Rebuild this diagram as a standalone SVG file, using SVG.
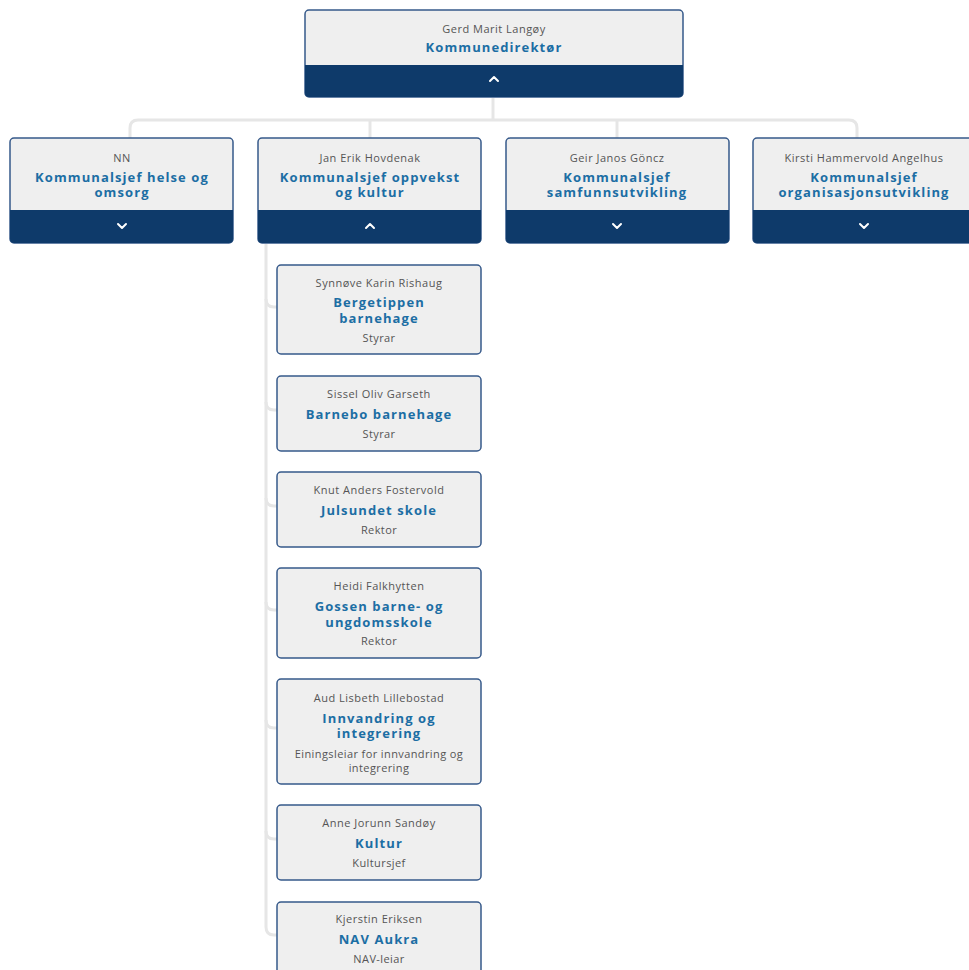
<svg xmlns="http://www.w3.org/2000/svg" width="969" height="970" viewBox="0 0 969 970">
<style>
.box{fill:#efefef;stroke:#36598a;stroke-width:1.5}
.band{fill:#0e3a6a}
.name{font-family:"Open Sans","Liberation Sans",sans-serif;font-size:11px;fill:#555;text-anchor:middle;letter-spacing:0.5px}
.title{font-family:"Open Sans","Liberation Sans",sans-serif;font-size:13px;font-weight:bold;fill:#1c6ea4;text-anchor:middle;letter-spacing:1.1px}
.role{font-family:"Open Sans","Liberation Sans",sans-serif;font-size:11px;fill:#555;text-anchor:middle;letter-spacing:0.4px}
.chev{fill:none;stroke:#fff;stroke-width:2;stroke-linecap:round;stroke-linejoin:round}
.conn{fill:none;stroke:#e6e6e6;stroke-width:3}
</style>
<rect width="969" height="970" fill="#fff"/>
<g id="connectors">
<path class="conn" d="M493 98 V120"/>
<path class="conn" d="M130 138 V128 Q130 120 138 120 H849 Q857 120 857 128 V138"/>
<path class="conn" d="M370 120 V138"/>
<path class="conn" d="M617 120 V138"/>
<path class="conn" d="M266 244 V927 Q266 935 274 935 H278"/>
<path class="conn" d="M266 299 Q266 307 274 307 H278"/>
<path class="conn" d="M266 402 Q266 410 274 410 H278"/>
<path class="conn" d="M266 498 Q266 506 274 506 H278"/>
<path class="conn" d="M266 602 Q266 610 274 610 H278"/>
<path class="conn" d="M266 720 Q266 728 274 728 H278"/>
<path class="conn" d="M266 831 Q266 839 274 839 H278"/>
</g>
<g id="n-top">
<rect class="box" x="305" y="10" width="378" height="87" rx="4"/>
<path class="band" d="M305 65 H683 V93 Q683 97 679 97 H309 Q305 97 305 93 Z"/>
<text class="name" x="494" y="33">Gerd Marit Langøy</text>
<text class="title" x="494" y="52">Kommunedirektør</text>
<polyline class="chev" points="490,81 494,77 498,81"/>
</g>
<g id="n-helse">
<rect class="box" x="10" y="138" width="223" height="105" rx="4"/>
<path class="band" d="M10 210 H233 V239 Q233 243 229 243 H14 Q10 243 10 239 Z"/>
<text class="name" x="122" y="162">NN</text>
<text class="title" x="122" y="182">Kommunalsjef helse og</text>
<text class="title" x="122" y="197">omsorg</text>
<polyline class="chev" points="118,224 122,228 126,224"/>
</g>
<g id="n-oppvekst">
<rect class="box" x="258" y="138" width="223" height="105" rx="4"/>
<path class="band" d="M258 210 H481 V239 Q481 243 477 243 H262 Q258 243 258 239 Z"/>
<text class="name" x="370" y="162">Jan Erik Hovdenak</text>
<text class="title" x="370" y="182">Kommunalsjef oppvekst</text>
<text class="title" x="370" y="197">og kultur</text>
<polyline class="chev" points="366,228 370,224 374,228"/>
</g>
<g id="n-samfunn">
<rect class="box" x="506" y="138" width="223" height="105" rx="4"/>
<path class="band" d="M506 210 H729 V239 Q729 243 725 243 H510 Q506 243 506 239 Z"/>
<text class="name" x="617" y="162">Geir Janos Göncz</text>
<text class="title" x="617" y="182">Kommunalsjef</text>
<text class="title" x="617" y="197">samfunnsutvikling</text>
<polyline class="chev" points="613,224 617,228 621,224"/>
</g>
<g id="n-organisasjon">
<rect class="box" x="753" y="138" width="223" height="105" rx="4"/>
<path class="band" d="M753 210 H976 V239 Q976 243 972 243 H757 Q753 243 753 239 Z"/>
<text class="name" x="864" y="162">Kirsti Hammervold Angelhus</text>
<text class="title" x="864" y="182">Kommunalsjef</text>
<text class="title" x="864" y="197">organisasjonsutvikling</text>
<polyline class="chev" points="860,224 864,228 868,224"/>
</g>
<g id="n-bergetippen">
<rect class="box" x="277" y="265" width="204" height="89" rx="4"/>
<text class="name" x="379" y="287">Synnøve Karin Rishaug</text>
<text class="title" x="379" y="307">Bergetippen</text>
<text class="title" x="379" y="323">barnehage</text>
<text class="role" x="379" y="342">Styrar</text>
</g>
<g id="n-barnebo">
<rect class="box" x="277" y="376" width="204" height="75" rx="4"/>
<text class="name" x="379" y="398">Sissel Oliv Garseth</text>
<text class="title" x="379" y="419">Barnebo barnehage</text>
<text class="role" x="379" y="438">Styrar</text>
</g>
<g id="n-julsundet">
<rect class="box" x="277" y="472" width="204" height="75" rx="4"/>
<text class="name" x="379" y="494">Knut Anders Fostervold</text>
<text class="title" x="379" y="515">Julsundet skole</text>
<text class="role" x="379" y="534">Rektor</text>
</g>
<g id="n-gossen">
<rect class="box" x="277" y="568" width="204" height="90" rx="4"/>
<text class="name" x="379" y="590">Heidi Falkhytten</text>
<text class="title" x="379" y="611">Gossen barne- og</text>
<text class="title" x="379" y="627">ungdomsskole</text>
<text class="role" x="379" y="645">Rektor</text>
</g>
<g id="n-innvandring">
<rect class="box" x="277" y="679" width="204" height="105" rx="4"/>
<text class="name" x="379" y="702">Aud Lisbeth Lillebostad</text>
<text class="title" x="379" y="723">Innvandring og</text>
<text class="title" x="379" y="738">integrering</text>
<text class="role" x="379" y="758">Einingsleiar for innvandring og</text>
<text class="role" x="379" y="772">integrering</text>
</g>
<g id="n-kultur">
<rect class="box" x="277" y="805" width="204" height="75" rx="4"/>
<text class="name" x="379" y="827">Anne Jorunn Sandøy</text>
<text class="title" x="379" y="848">Kultur</text>
<text class="role" x="379" y="867">Kultursjef</text>
</g>
<g id="n-nav">
<rect class="box" x="277" y="902" width="204" height="80" rx="4"/>
<text class="name" x="379" y="923">Kjerstin Eriksen</text>
<text class="title" x="379" y="944">NAV Aukra</text>
<text class="role" x="379" y="963">NAV-leiar</text>
</g>
</svg>
